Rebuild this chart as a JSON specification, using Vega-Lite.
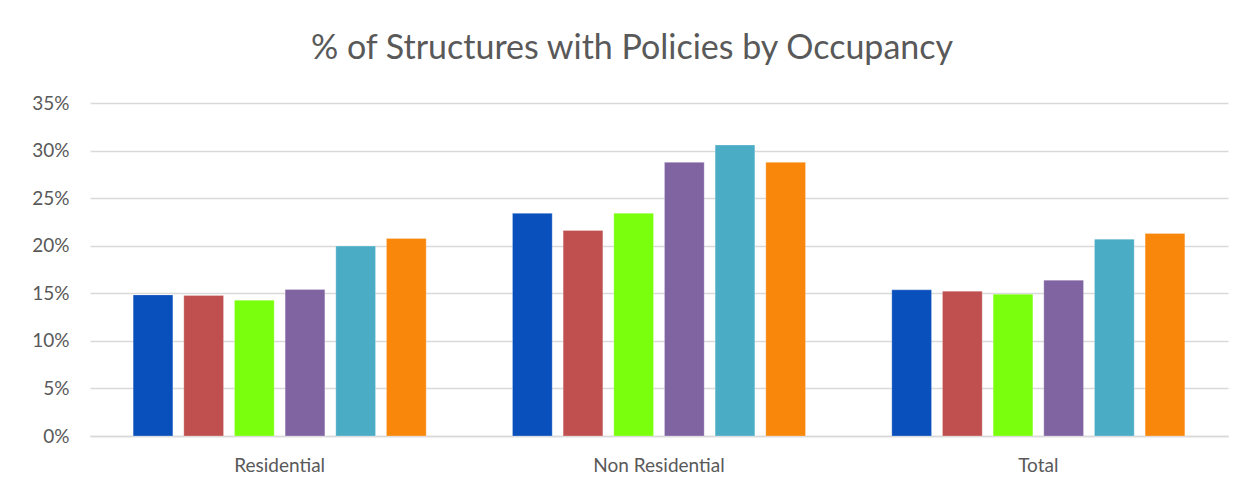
{
  "$schema": "https://vega.github.io/schema/vega-lite/v6.json",
  "autosize": {"type": "none"},
  "width": 1138,
  "height": 333,
  "padding": {"left": 90, "top": 103, "right": 28, "bottom": 60},
  "background": "white",
  "title": {
    "text": "% of Structures with Policies by Occupancy",
    "font": "Lato",
    "fontSize": 34,
    "fontWeight": "normal",
    "color": "#595959",
    "anchor": "middle",
    "frame": "group",
    "offset": 28,
    "dx": -27
  },
  "data": {
    "values": [
      {"occupancy": "Residential", "series": "Series 1", "pct": 0.1483},
      {"occupancy": "Residential", "series": "Series 2", "pct": 0.1477},
      {"occupancy": "Residential", "series": "Series 3", "pct": 0.1427},
      {"occupancy": "Residential", "series": "Series 4", "pct": 0.1540},
      {"occupancy": "Residential", "series": "Series 5", "pct": 0.1996},
      {"occupancy": "Residential", "series": "Series 6", "pct": 0.2076},
      {"occupancy": "Non Residential", "series": "Series 1", "pct": 0.2340},
      {"occupancy": "Non Residential", "series": "Series 2", "pct": 0.2160},
      {"occupancy": "Non Residential", "series": "Series 3", "pct": 0.2340},
      {"occupancy": "Non Residential", "series": "Series 4", "pct": 0.2876},
      {"occupancy": "Non Residential", "series": "Series 5", "pct": 0.3058},
      {"occupancy": "Non Residential", "series": "Series 6", "pct": 0.2876},
      {"occupancy": "Total", "series": "Series 1", "pct": 0.1536},
      {"occupancy": "Total", "series": "Series 2", "pct": 0.1522},
      {"occupancy": "Total", "series": "Series 3", "pct": 0.1490},
      {"occupancy": "Total", "series": "Series 4", "pct": 0.1638},
      {"occupancy": "Total", "series": "Series 5", "pct": 0.2069},
      {"occupancy": "Total", "series": "Series 6", "pct": 0.2129}
    ]
  },
  "mark": {"type": "bar", "stroke": "white", "strokeWidth": 0.5, "strokeOpacity": 0.5},
  "encoding": {
    "x": {
      "field": "occupancy",
      "type": "nominal",
      "sort": ["Residential", "Non Residential", "Total"],
      "scale": {"paddingInner": 0.2275, "paddingOuter": 0.11375},
      "axis": {
        "title": null,
        "labelAngle": 0,
        "labelFont": "Lato",
        "labelFontSize": 19,
        "labelColor": "#595959",
        "labelPadding": 20,
        "ticks": false,
        "domainColor": "#d9d9d9",
        "domainWidth": 1.5
      }
    },
    "xOffset": {
      "field": "series",
      "type": "nominal",
      "scale": {"paddingInner": 0.216, "paddingOuter": 0}
    },
    "y": {
      "field": "pct",
      "type": "quantitative",
      "scale": {"domain": [0, 0.35], "nice": false},
      "axis": {
        "title": null,
        "format": ".0%",
        "values": [0, 0.05, 0.1, 0.15, 0.2, 0.25, 0.3, 0.35],
        "labelFont": "Lato",
        "labelFontSize": 19,
        "labelColor": "#595959",
        "labelPadding": 21,
        "ticks": false,
        "domain": false,
        "gridColor": "#d9d9d9",
        "gridWidth": 1.5
      }
    },
    "color": {
      "field": "series",
      "type": "nominal",
      "legend": null,
      "scale": {
        "domain": ["Series 1", "Series 2", "Series 3", "Series 4", "Series 5", "Series 6"],
        "range": ["#0A50BC", "#C0504F", "#7AFF0C", "#8064A2", "#4BACC6", "#F9870B"]
      }
    }
  },
  "config": {"view": {"stroke": null}}
}
